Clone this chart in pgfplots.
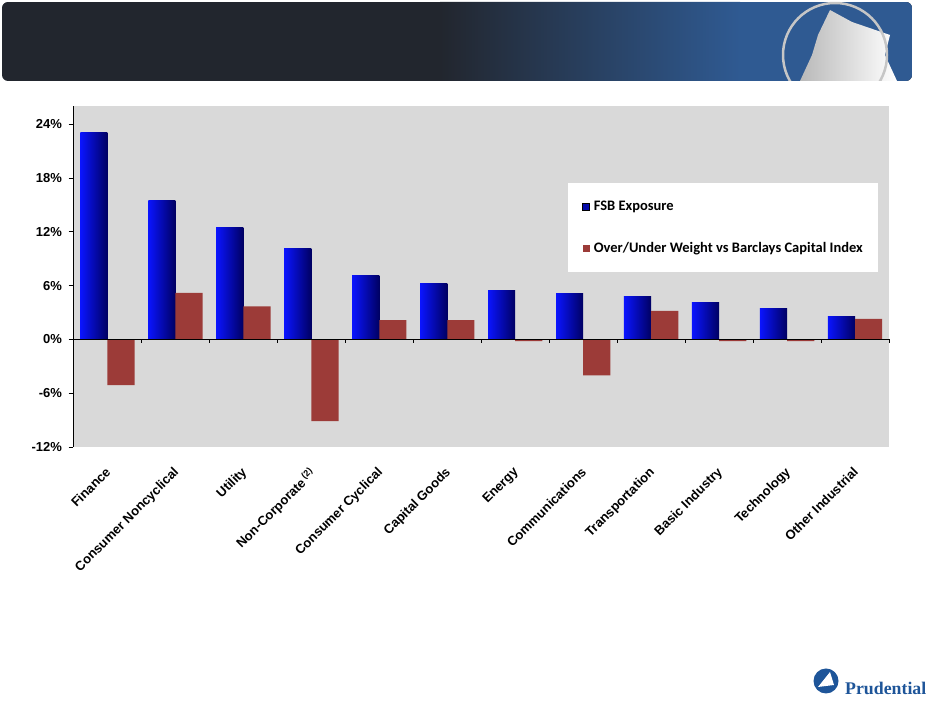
\documentclass[border=0pt]{standalone}
\usepackage{fontspec}
\usepackage{pgfplots}
\pgfplotsset{compat=1.18}
\setmainfont{Liberation Sans}
\newfontfamily\calib{Carlito}
\newfontfamily\serifb{Liberation Serif}
\definecolor{bgray}{HTML}{D9D9D9}
\definecolor{barred}{HTML}{9C3B38}
\definecolor{barblueL}{HTML}{0A14FF}
\definecolor{barblueM}{HTML}{0000E0}
\definecolor{barblueR}{HTML}{000062}
\definecolor{bandL}{HTML}{22262E}
\definecolor{bandR}{HTML}{2F5A92}
\definecolor{prublue}{HTML}{1E5599}
\pgfplotsset{bluebar/.style={ybar, bar width=0.4, bar shift=-0.2, draw=none, left color=barblueL, middle color=barblueM, right color=barblueR, forget plot}}
\begin{document}
\begin{tikzpicture}[x=1pt,y=1pt]
\useasboundingbox (0,0) rectangle (932,703);
% header band
\begin{scope}
\clip[rounded corners=6pt] (2,622) rectangle (912,701);
\fill[bandL] (2,622) rectangle (912,701);
\shade[left color=bandL, right color=bandR] (440,622) rectangle (740,701);
\fill[bandR] (740,622) rectangle (912,701);
\shade[left color=gray!55!white, right color=white] (830,693) -- (852,681) -- (890,668) -- (885,648) -- (897,622) -- (800,622) -- (812,648) -- (818,668) -- cycle;
\draw[gray!45!white, line width=2.5pt] (835,648) circle (52);
\end{scope}
% prudential logo
\fill[prublue] (826,22) circle (12.5);
\fill[white] (818,16) -- (830,31) -- (834,18) -- cycle;
\node[anchor=west, inner sep=0pt, text=prublue, font=\serifb\bfseries\fontsize{17.8}{20}\selectfont] at (845,15) {Prudential};
\begin{axis}[
  at={(73.5pt,256pt)}, anchor=south west,
  scale only axis, width=815.5pt, height=340.6pt,
  xmin=-0.5, xmax=11.5, ymin=-12, ymax=26,
  axis background/.style={fill=bgray},
  separate axis lines,
  x axis line style={draw=none},
  axis y line*=left,
  y axis line style={black, line width=0.8pt, -},
  axis x line*=bottom,
  ytick={-12,-6,0,6,12,18,24},
  yticklabels={-12\%,-6\%,0\%,6\%,12\%,18\%,24\%},
  tick align=outside,
  y tick style={black, line width=0.8pt},
  major tick length=5pt,
  yticklabel style={font=\bfseries\fontsize{13}{15}\selectfont, xshift=-3pt},
  xtick={0,...,11},
  x tick style={draw=none},
  xticklabels={Finance, Consumer Noncyclical, Utility, Non-Corporate\,\textsuperscript{(2)}, Consumer Cyclical, Capital Goods, Energy, Communications, Transportation, Basic Industry, Technology, Other Industrial},
  xticklabel style={font=\bfseries\fontsize{13}{15}\selectfont, rotate=45, anchor=north east, xshift=-11pt, yshift=-7pt, inner sep=1pt},
  legend style={at={(rel axis cs:0.9865,0.775)}, anchor=north east, fill=white, draw=none,
     inner xsep=14pt, inner ysep=16.5pt, row sep=29pt,
     font=\calib\bfseries\fontsize{14.5}{16}\selectfont, nodes={inner sep=1pt}},
  legend cell align=left,
  clip=false,
]
\addplot[bluebar] coordinates {(0,23.1)};
\addplot[bluebar] coordinates {(1,15.5)};
\addplot[bluebar] coordinates {(2,12.5)};
\addplot[bluebar] coordinates {(3,10.2)};
\addplot[bluebar] coordinates {(4,7.1)};
\addplot[bluebar] coordinates {(5,6.2)};
\addplot[bluebar] coordinates {(6,5.5)};
\addplot[bluebar] coordinates {(7,5.1)};
\addplot[bluebar] coordinates {(8,4.8)};
\addplot[bluebar] coordinates {(9,4.1)};
\addplot[bluebar] coordinates {(10,3.4)};
\addplot[bluebar] coordinates {(11,2.6)};
\addlegendimage{legend image code/.code={\fill[fill=barblueR!55!barblueL] (0pt,-3.5pt) rectangle (7pt,3.5pt);}}
\addlegendentry{\hspace{3pt}FSB Exposure}
\addplot[ybar, bar width=0.4, bar shift=0.2, draw=none, fill=barred,
  legend image code/.code={\fill[fill=barred] (0pt,-3.5pt) rectangle (7pt,3.5pt);}]
  coordinates {(0,-5.1) (1,5.2) (2,3.7) (3,-9.1) (4,2.15) (5,2.15) (6,-0.2) (7,-4.0) (8,3.2) (9,-0.2) (10,-0.2) (11,2.3)};
\addlegendentry{\hspace{3pt}Over/Under Weight vs Barclays Capital Index}
\draw[black, line width=0.8pt] (axis cs:-0.5,0) -- (axis cs:11.5,0);
\pgfplotsinvokeforeach{0.5,1.5,...,11.5}{\draw[black, line width=0.6pt] (axis cs:#1,0) -- ++(0pt,-4pt);}
\end{axis}
\end{tikzpicture}
\end{document}
